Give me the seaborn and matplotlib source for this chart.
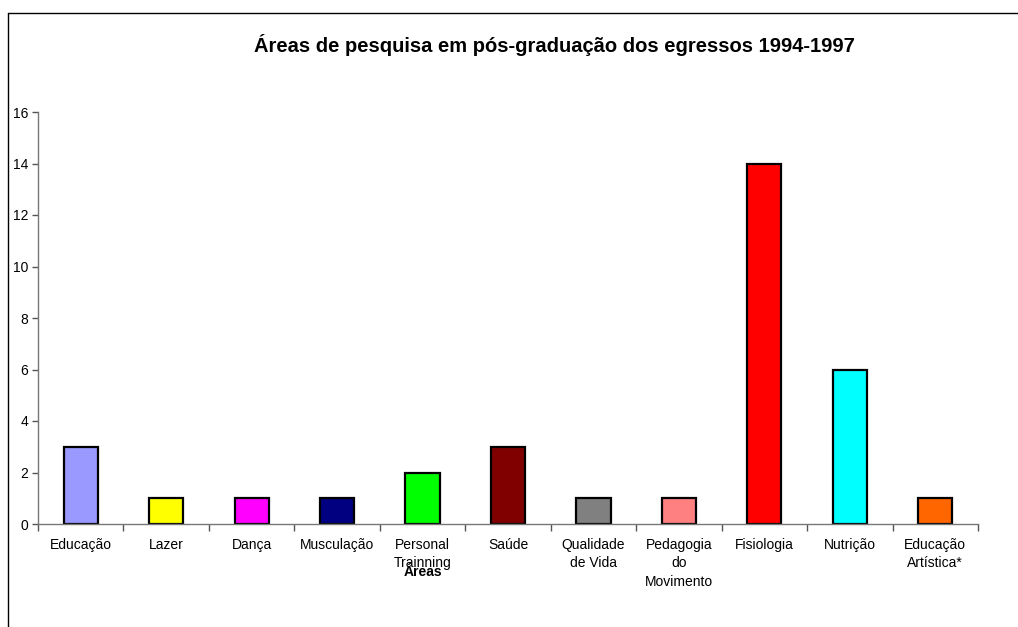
import numpy as np
import pandas as pd
import seaborn as sns
import matplotlib.pyplot as plt
from matplotlib.lines import Line2D

# Dados do gráfico
areas = ["Educação", "Lazer", "Dança", "Musculação", "Personal\nTrainning", "Saúde",
         "Qualidade\nde Vida", "Pedagogia\ndo\nMovimento", "Fisiologia", "Nutrição",
         "Educação\nArtística*"]
egressos = [3, 1, 1, 1, 2, 3, 1, 1, 14, 6, 1]
cores = ["#9999FF", "#FFFF00", "#FF00FF", "#000080", "#00FF00", "#800000",
         "#808080", "#FF8080", "#FF0000", "#00FFFF", "#FF6600"]

df = pd.DataFrame({"area": areas, "n": egressos})

sns.set_theme(style="white")
plt.rcParams['font.family'] = ['Liberation Sans', 'DejaVu Sans']
plt.rcParams['text.color'] = 'black'
plt.rcParams['xtick.color'] = 'black'
plt.rcParams['ytick.color'] = 'black'

fig = plt.figure(figsize=(10.18, 6.27), dpi=100)
ax = fig.add_axes([38 / 1018, 1 - 524 / 627, 940 / 1018, 412 / 627])

sns.barplot(data=df, x="area", y="n", hue="area", palette=cores, legend=False,
            width=0.4, edgecolor="black", linewidth=1.6, saturation=1, ax=ax)

ax.set_ylim(0, 16)
ax.set_xlim(-0.5, len(areas) - 0.5)
ax.set_yticks(range(0, 17, 2))
ax.tick_params(axis="y", length=4, width=1, color="#555555", labelsize=10,
               labelcolor="black", pad=3, left=True)
ax.set_xticks(range(len(areas)))
ax.set_xticklabels(areas, fontsize=10, linespacing=1.4)
ax.tick_params(axis="x", length=0, pad=10, labelcolor="black")
ax.set_xticks(np.arange(-0.5, len(areas)), minor=True)
ax.tick_params(axis="x", which="minor", length=5, width=1, color="#555555", bottom=True)

for s in ["top", "right"]:
    ax.spines[s].set_visible(False)
for s in ["left", "bottom"]:
    ax.spines[s].set_color("#777777")
    ax.spines[s].set_linewidth(1)

ax.set_ylabel("")
# o rótulo "Áreas" fica sobreposto a "Trainning", como no original
ax.set_xlabel("Áreas", fontsize=10, fontweight="bold", color="black")
ax.xaxis.set_label_coords((423 - 38) / 940, (524 - 565) / 412)

fig.text(0.545, 1 - 45 / 627, "Áreas de pesquisa em pós-graduação dos egressos 1994-1997",
         ha="center", va="center", fontsize=14.5, fontweight="bold", color="black")

# moldura do gráfico
fig.add_artist(Line2D([8 / 1018, 1], [1 - 13 / 627, 1 - 13 / 627], color="black", lw=1))
fig.add_artist(Line2D([8 / 1018, 8 / 1018], [0, 1 - 13 / 627], color="black", lw=1))

plt.savefig("out.png", dpi=100)
